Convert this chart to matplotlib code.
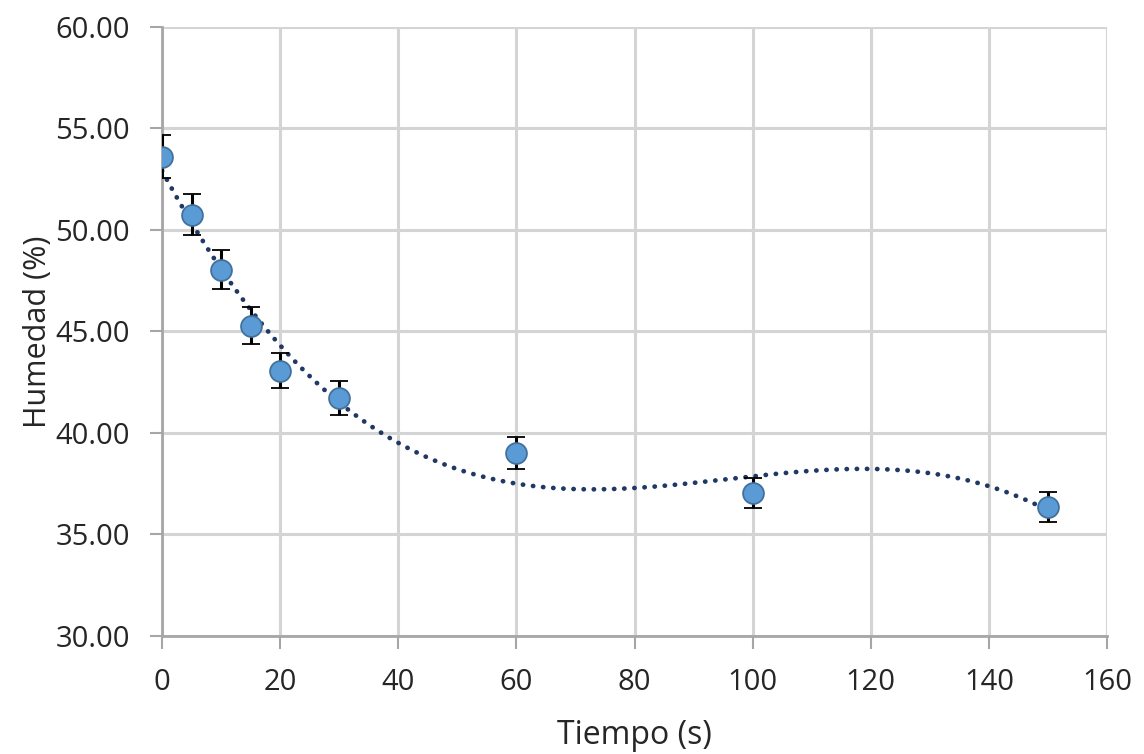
import numpy as np
import matplotlib.pyplot as plt

plt.rcParams['font.family'] = ['Open Sans', 'DejaVu Sans']

# data
tiempo = [0, 5, 10, 15, 20, 30, 60, 100, 150]
humedad = [53.61, 50.74, 48.03, 45.29, 43.07, 41.71, 39.00, 37.03, 36.34]
error = [1.07, 1.01, 0.96, 0.91, 0.86, 0.83, 0.78, 0.74, 0.73]

fig = plt.figure(figsize=(11.44, 7.54), dpi=100)
ax = fig.add_axes([0.1416, 0.1565, 0.8261, 0.8077])

# polynomial trendline, order 3 (as in the spreadsheet)
coef = np.polyfit(tiempo, humedad, 3)
xs = np.linspace(0, 150, 400)
ax.plot(xs, np.polyval(coef, xs), color='#1f3864', lw=3.4,
        linestyle=(0, (0.05, 2.1)), dash_capstyle='round', zorder=2)

ax.errorbar(tiempo, humedad, yerr=error, fmt='o', color='#5b9bd5',
            mec='#41719c', mew=1.3, ms=15, ecolor='black', elinewidth=2.2,
            capsize=6.5, capthick=2.2, zorder=3)

ax.set_xlim(0, 160)
ax.set_ylim(30, 60)
ax.set_xticks(range(0, 161, 20))
ax.set_yticks(range(30, 61, 5))
ax.set_yticklabels([f'{v:.2f}' for v in range(30, 61, 5)])
ax.grid(True, color='#d4d4d4', lw=2.2)
ax.set_axisbelow(True)
for s in ['top', 'right']:
    ax.spines[s].set_visible(False)
for s in ['left', 'bottom']:
    ax.spines[s].set_color('#a6a6a6')
    ax.spines[s].set_linewidth(2)
ax.tick_params(colors='#a6a6a6', labelcolor='#262626', labelsize=21,
               length=9, width=1.5, direction='out')
ax.tick_params(axis='x', pad=14)
ax.tick_params(axis='y', pad=14)
ax.set_xlabel('Tiempo (s)', fontsize=23, color='#262626', labelpad=16)
ax.set_ylabel('Humedad (%)', fontsize=22, color='#262626', labelpad=2)

fig.savefig('out.png', dpi=100)
